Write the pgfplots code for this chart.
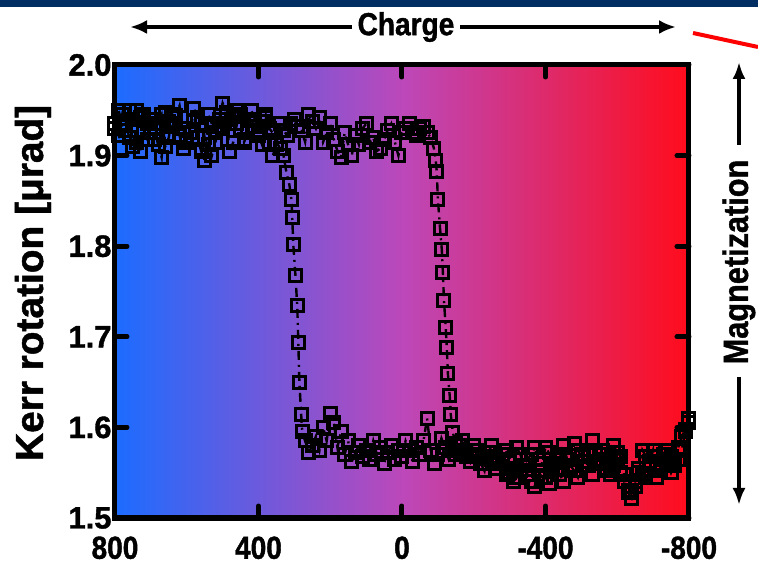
\documentclass[border=0pt]{standalone}
\usepackage{pgfplots}
\pgfplotsset{compat=1.18}
\usepackage{fontspec}
\setmainfont{Liberation Sans}[BoldFeatures={FakeBold=1.2}]
\newfontfamily\narrowfont{Liberation Sans}[FakeStretch=0.88, BoldFeatures={FakeBold=1.2}]
\usetikzlibrary{arrows.meta}
\definecolor{kblue}{RGB}{28,108,255}
\definecolor{kmid}{RGB}{188,72,186}
\definecolor{kred}{RGB}{255,12,28}
\definecolor{navy}{RGB}{0,46,98}
\begin{document}
\begin{tikzpicture}
\path[use as bounding box] (-115bp,-47bp) rectangle (643bp,518bp);
\fill[navy] (-115bp,511bp) rectangle (643bp,518bp);
\draw[red, line width=4bp] (578bp,485bp) -- (643bp,471bp);
\begin{axis}[
  at={(0,0)}, anchor=south west,
  scale only axis, width=574bp, height=453bp,
  x dir=reverse,
  xmin=-800, xmax=800, ymin=1.5, ymax=2.0,
  xtick={-800,-400,0,400,800},
  xticklabels={-800,-400,0,400,800},
  ytick={1.5,1.6,1.7,1.8,1.9,2.0},
  yticklabels={1.5,1.6,1.7,1.8,1.9,2.0},
  tick align=inside,
  major tick length=12bp,
  every tick/.style={black, line width=5bp, line cap=round},
  axis line style={line width=5bp},
  xticklabel style={font=\fontsize{32}{32}\selectfont\narrowfont\bfseries, yshift=-15bp},
  yticklabel style={font=\fontsize{31}{31}\selectfont\bfseries},
  ylabel={Kerr rotation [μrad]},
  ylabel style={at={(axis description cs:-0.143,0.519)}, anchor=center, font=\fontsize{39}{39}\selectfont\bfseries},
  axis background/.style={left color=kblue, right color=kred, middle color=kmid},
  clip=true,
]
\addplot[black, line width=2.4bp, dash pattern=on 9bp off 5bp on 2bp off 5bp,
  mark=square, mark size=6bp, mark options={solid, line width=3bp, fill=none}]
coordinates {
(800,1.930)(790,1.922)(780,1.945)(770,1.935)(760,1.920)(750,1.910)(740,1.950)(730,1.942)
(720,1.925)(710,1.918)(700,1.940)(690,1.930)(680,1.912)(670,1.898)(660,1.948)(650,1.938)
(640,1.932)(630,1.944)(620,1.955)(610,1.930)(600,1.915)(590,1.925)(580,1.938)(570,1.920)
(560,1.905)(550,1.895)(540,1.945)(530,1.935)(520,1.925)(510,1.940)(500,1.958)(490,1.948)
(480,1.935)(470,1.945)(460,1.950)(450,1.930)(440,1.918)(430,1.928)(420,1.940)(410,1.932)
(400,1.928)(390,1.938)(380,1.945)(370,1.915)(360,1.900)(350,1.912)(340,1.935)(330,1.928)
(320,1.922)(310,1.935)
(300,1.940)(290,1.932)(280,1.928)(270,1.915)(260,1.945)(250,1.938)(240,1.930)(230,1.942)
(220,1.915)(210,1.925)(200,1.935)(190,1.918)(180,1.905)(170,1.898)(160,1.925)(150,1.912)
(140,1.900)(130,1.922)(120,1.912)(110,1.930)(100,1.935)(90,1.915)(80,1.920)(70,1.905)
(60,1.908)(50,1.918)(40,1.928)(30,1.935)(20,1.915)(10,1.900)(0,1.925)(-10,1.930)
(-20,1.935)(-30,1.925)(-40,1.922)(-50,1.930)(-60,1.932)(-70,1.925)(-80,1.920)
(-89,1.908)(-94,1.895)(-97,1.882)(-100,1.852)(-106,1.820)(-111,1.796)(-114,1.771)
(-117,1.740)(-122,1.710)(-125,1.688)(-128,1.659)(-133,1.635)(-136,1.614)(-142,1.594)
(-150,1.582)(-160,1.580)(-170,1.572)(-180,1.568)(-190,1.562)(-200,1.575)(-210,1.570)
(-220,1.560)(-230,1.552)(-240,1.572)(-250,1.565)(-260,1.555)(-270,1.560)(-280,1.565)
(-290,1.548)(-300,1.550)(-310,1.540)(-320,1.545)(-330,1.552)(-340,1.558)(-350,1.548)
(-360,1.540)(-370,1.535)(-380,1.552)(-390,1.545)(-400,1.545)(-410,1.538)(-420,1.560)
(-430,1.555)(-440,1.548)(-450,1.540)(-460,1.565)(-470,1.558)(-480,1.552)(-490,1.545)
(-500,1.570)(-510,1.562)(-520,1.558)(-530,1.548)(-540,1.575)(-550,1.565)(-560,1.560)
(-570,1.552)(-580,1.548)(-590,1.558)(-600,1.565)(-610,1.550)(-620,1.540)(-630,1.528)
(-640,1.522)(-650,1.540)(-660,1.555)(-670,1.548)(-680,1.545)(-690,1.558)(-700,1.568)
(-710,1.560)(-720,1.552)(-730,1.565)(-740,1.575)(-750,1.568)(-760,1.560)(-770,1.578)
(-780,1.590)(-790,1.598)(-800,1.605)
};
\addplot[black, line width=2.4bp, dash pattern=on 9bp off 5bp on 2bp off 5bp,
  mark=square, mark size=6bp, mark options={solid, line width=3bp, fill=none}]
coordinates {
(-800,1.610)(-790,1.595)(-780,1.575)(-770,1.565)(-760,1.558)(-750,1.550)(-740,1.562)
(-730,1.570)(-720,1.555)(-710,1.545)(-700,1.575)(-690,1.562)(-680,1.568)(-670,1.575)
(-660,1.550)(-650,1.535)(-640,1.530)(-630,1.530)(-620,1.548)(-610,1.568)(-600,1.572)
(-590,1.580)(-580,1.565)(-570,1.555)(-560,1.575)(-550,1.570)(-540,1.562)(-530,1.585)
(-520,1.570)(-510,1.562)(-500,1.568)(-490,1.575)(-480,1.582)(-470,1.555)(-460,1.565)
(-450,1.580)(-440,1.570)(-430,1.565)(-420,1.558)(-410,1.572)(-400,1.578)(-390,1.560)
(-380,1.565)(-370,1.578)(-360,1.570)(-350,1.565)(-340,1.558)(-330,1.570)(-320,1.578)
(-310,1.555)(-300,1.565)(-290,1.575)(-280,1.570)(-270,1.562)(-260,1.568)(-250,1.580)
(-240,1.572)(-230,1.568)(-220,1.560)(-210,1.575)(-200,1.580)(-190,1.562)(-180,1.570)
(-170,1.585)(-160,1.575)(-150,1.570)(-140,1.575)
(-130,1.565)(-120,1.578)(-110,1.588)(-100,1.570)(-90,1.560)(-80,1.575)(-70,1.610)
(-60,1.585)(-50,1.570)(-40,1.578)(-30,1.562)(-20,1.575)(-10,1.585)(0,1.568)(10,1.575)
(20,1.565)(30,1.580)(40,1.572)(50,1.560)(60,1.578)(70,1.570)(80,1.585)(90,1.565)
(100,1.575)(110,1.568)(120,1.580)(130,1.572)(140,1.562)(150,1.585)(160,1.570)(170,1.595)
(180,1.578)(190,1.605)(200,1.615)(210,1.585)(220,1.600)(230,1.575)(240,1.590)(250,1.580)
(260,1.572)(270,1.585)
(278,1.595)(281,1.614)(286,1.650)(289,1.694)(292,1.734)(297,1.768)(303,1.802)(306,1.832)
(308,1.851)(314,1.868)(322,1.881)
(330,1.900)(340,1.908)(350,1.915)(360,1.925)(370,1.930)(380,1.942)(390,1.912)(400,1.922)
(410,1.940)(420,1.950)(430,1.925)(440,1.915)(450,1.945)(460,1.935)(470,1.915)(480,1.905)
(490,1.940)(500,1.930)(510,1.932)(520,1.915)(530,1.900)(540,1.912)(550,1.920)(560,1.935)
(570,1.942)(580,1.952)(590,1.925)(600,1.918)(610,1.908)(620,1.922)(630,1.935)(640,1.945)
(650,1.920)(660,1.910)(670,1.945)(680,1.935)(690,1.918)(700,1.925)(710,1.935)(720,1.945)
(730,1.905)(740,1.915)(750,1.940)(760,1.950)(770,1.928)(780,1.935)(790,1.950)(800,1.935)
};
\end{axis}
\node[font=\fontsize{32}{32}\selectfont\narrowfont\bfseries] at (291bp,491bp) {Charge};
\draw[line width=4bp, -{Latex[length=17bp,width=14bp]}] (237bp,491bp) -- (15bp,491bp);
\draw[line width=4bp, -{Latex[length=17bp,width=14bp]}] (345bp,491bp) -- (561bp,491bp);
\node[rotate=90, font=\fontsize{35}{35}\selectfont\narrowfont\bfseries] at (624bp,256bp) {Magnetization};
\draw[line width=4bp, -{Latex[length=17bp,width=13bp]}] (624bp,373bp) -- (624bp,456bp);
\draw[line width=4bp, -{Latex[length=17bp,width=13bp]}] (624bp,141bp) -- (624bp,13bp);
\end{tikzpicture}
\end{document}
